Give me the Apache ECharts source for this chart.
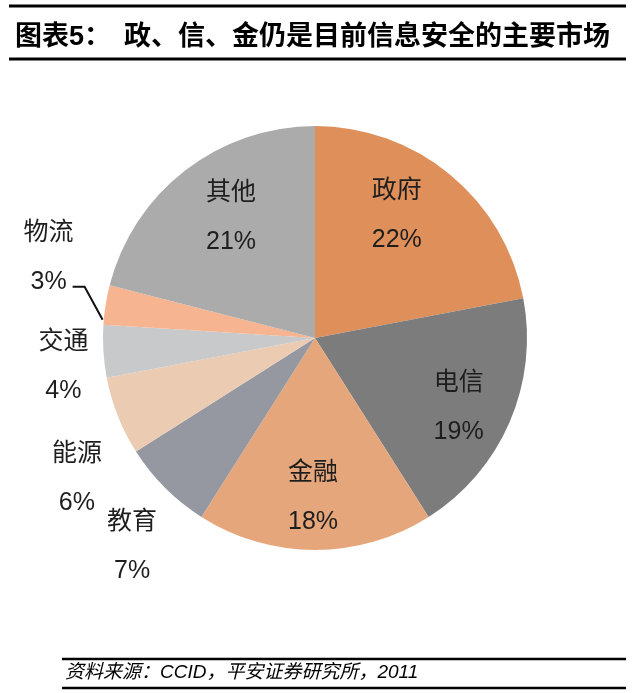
<!DOCTYPE html>
<html>
<head>
<meta charset="utf-8">
<script src="https://cdn.jsdelivr.net/npm/echarts@6/dist/echarts.min.js"></script>
<style>
  html, body { margin: 0; padding: 0; background: #fff; }
  #chart { width: 638px; height: 693px; }
</style>
</head>
<body>
<div id="chart"></div>
<script>
const categories = ['政府', '电信', '金融', '教育', '能源', '交通', '物流', '其他'];
const shares = [22, 19, 18, 7, 6, 4, 3, 21];
const colors = ['#DF8F5A', '#7C7C7C', '#E6A67B', '#9598A0', '#ECCBB3', '#C8C9CB', '#F6B491', '#ABABAB'];
const outsideNames = ['教育', '能源', '交通', '物流'];

const font = '"Liberation Sans", "Noto Sans CJK SC", sans-serif';

// nudges for the labels, relative to where the pie puts them
const outsideShift = {'教育': [-33, 59], '能源': [-41, 63], '交通': [-40, 15], '物流': [-57, -47]};
const insideShift = {'政府': [-18, -2], '其他': [12, 3], '电信': [0, 7], '金融': [-2, 3]};

const chart = echarts.init(document.getElementById('chart'));

const outerData = categories.map((n, i) => {
  const out = outsideNames.indexOf(n) >= 0;
  return {
    name: n,
    value: shares[i],
    itemStyle: {color: colors[i]},
    label: {show: out},
    labelLine: {
      show: out,
      lineStyle: {color: n === '物流' ? '#111' : 'rgba(0,0,0,0)', width: 2}
    }
  };
});

const innerData = categories.map((n, i) => ({
  name: n,
  value: shares[i],
  label: {show: outsideNames.indexOf(n) < 0}
}));

const labelText = {
  formatter: '{b}\n{c}%',
  fontSize: 25,
  lineHeight: 49,
  color: '#1e1e1e',
  fontFamily: font
};

const option = {
  animation: false,
  title: [
    {text: '图表5：', left: 10, top: 19,
      textStyle: {fontSize: 27, fontWeight: 'bold', color: '#000', fontFamily: font}},
    {text: '政、信、金仍是目前信息安全的主要市场', left: 119, top: 19,
      textStyle: {fontSize: 27, fontWeight: 'bold', color: '#000', fontFamily: font}},
    {text: '资料来源：CCID，平安证券研究所，2011', left: 60, top: 658,
      textStyle: {fontSize: 19, fontWeight: 'normal', fontStyle: 'italic', color: '#000', fontFamily: font}}
  ],
  graphic: [
    {type: 'line', shape: {x1: 9, y1: 6, x2: 626, y2: 6}, style: {stroke: '#000', lineWidth: 3}},
    {type: 'line', shape: {x1: 9, y1: 59, x2: 626, y2: 59}, style: {stroke: '#000', lineWidth: 3}},
    {type: 'line', shape: {x1: 62, y1: 659, x2: 626, y2: 659}, style: {stroke: '#000', lineWidth: 2.5}},
    {type: 'line', shape: {x1: 62, y1: 688, x2: 626, y2: 688}, style: {stroke: '#000', lineWidth: 2.5}}
  ],
  series: [
    {
      type: 'pie',
      silent: true,
      center: [315, 338],
      radius: [0, 212],
      avoidLabelOverlap: false,
      label: Object.assign({position: 'outside'}, labelText),
      labelLine: {length: 10, length2: 10},
      labelLayout: function (p) {
        const name = categories[p.dataIndex];
        const s = outsideShift[name];
        if (!s || !p.labelLinePoints) return {};
        const e = p.labelLinePoints[0];
        const res = {x: e[0] + s[0], y: e[1] + s[1], align: 'center', verticalAlign: 'middle'};
        if (name === '物流') {
          res.labelLinePoints = [[e[0] - 3, e[1] + 15], [e[0] - 21, e[1] - 18], [e[0] - 33, e[1] - 18]];
        }
        return res;
      },
      data: outerData
    },
    {
      type: 'pie',
      silent: true,
      center: [315, 338],
      radius: [95, 212],
      itemStyle: {color: 'rgba(0,0,0,0)'},
      label: Object.assign({position: 'inside'}, labelText),
      labelLayout: function (p) {
        const s = insideShift[categories[p.dataIndex]];
        return s ? {dx: s[0], dy: s[1]} : {};
      },
      data: innerData
    }
  ]
};

chart.setOption(option);
</script>
</body>
</html>
